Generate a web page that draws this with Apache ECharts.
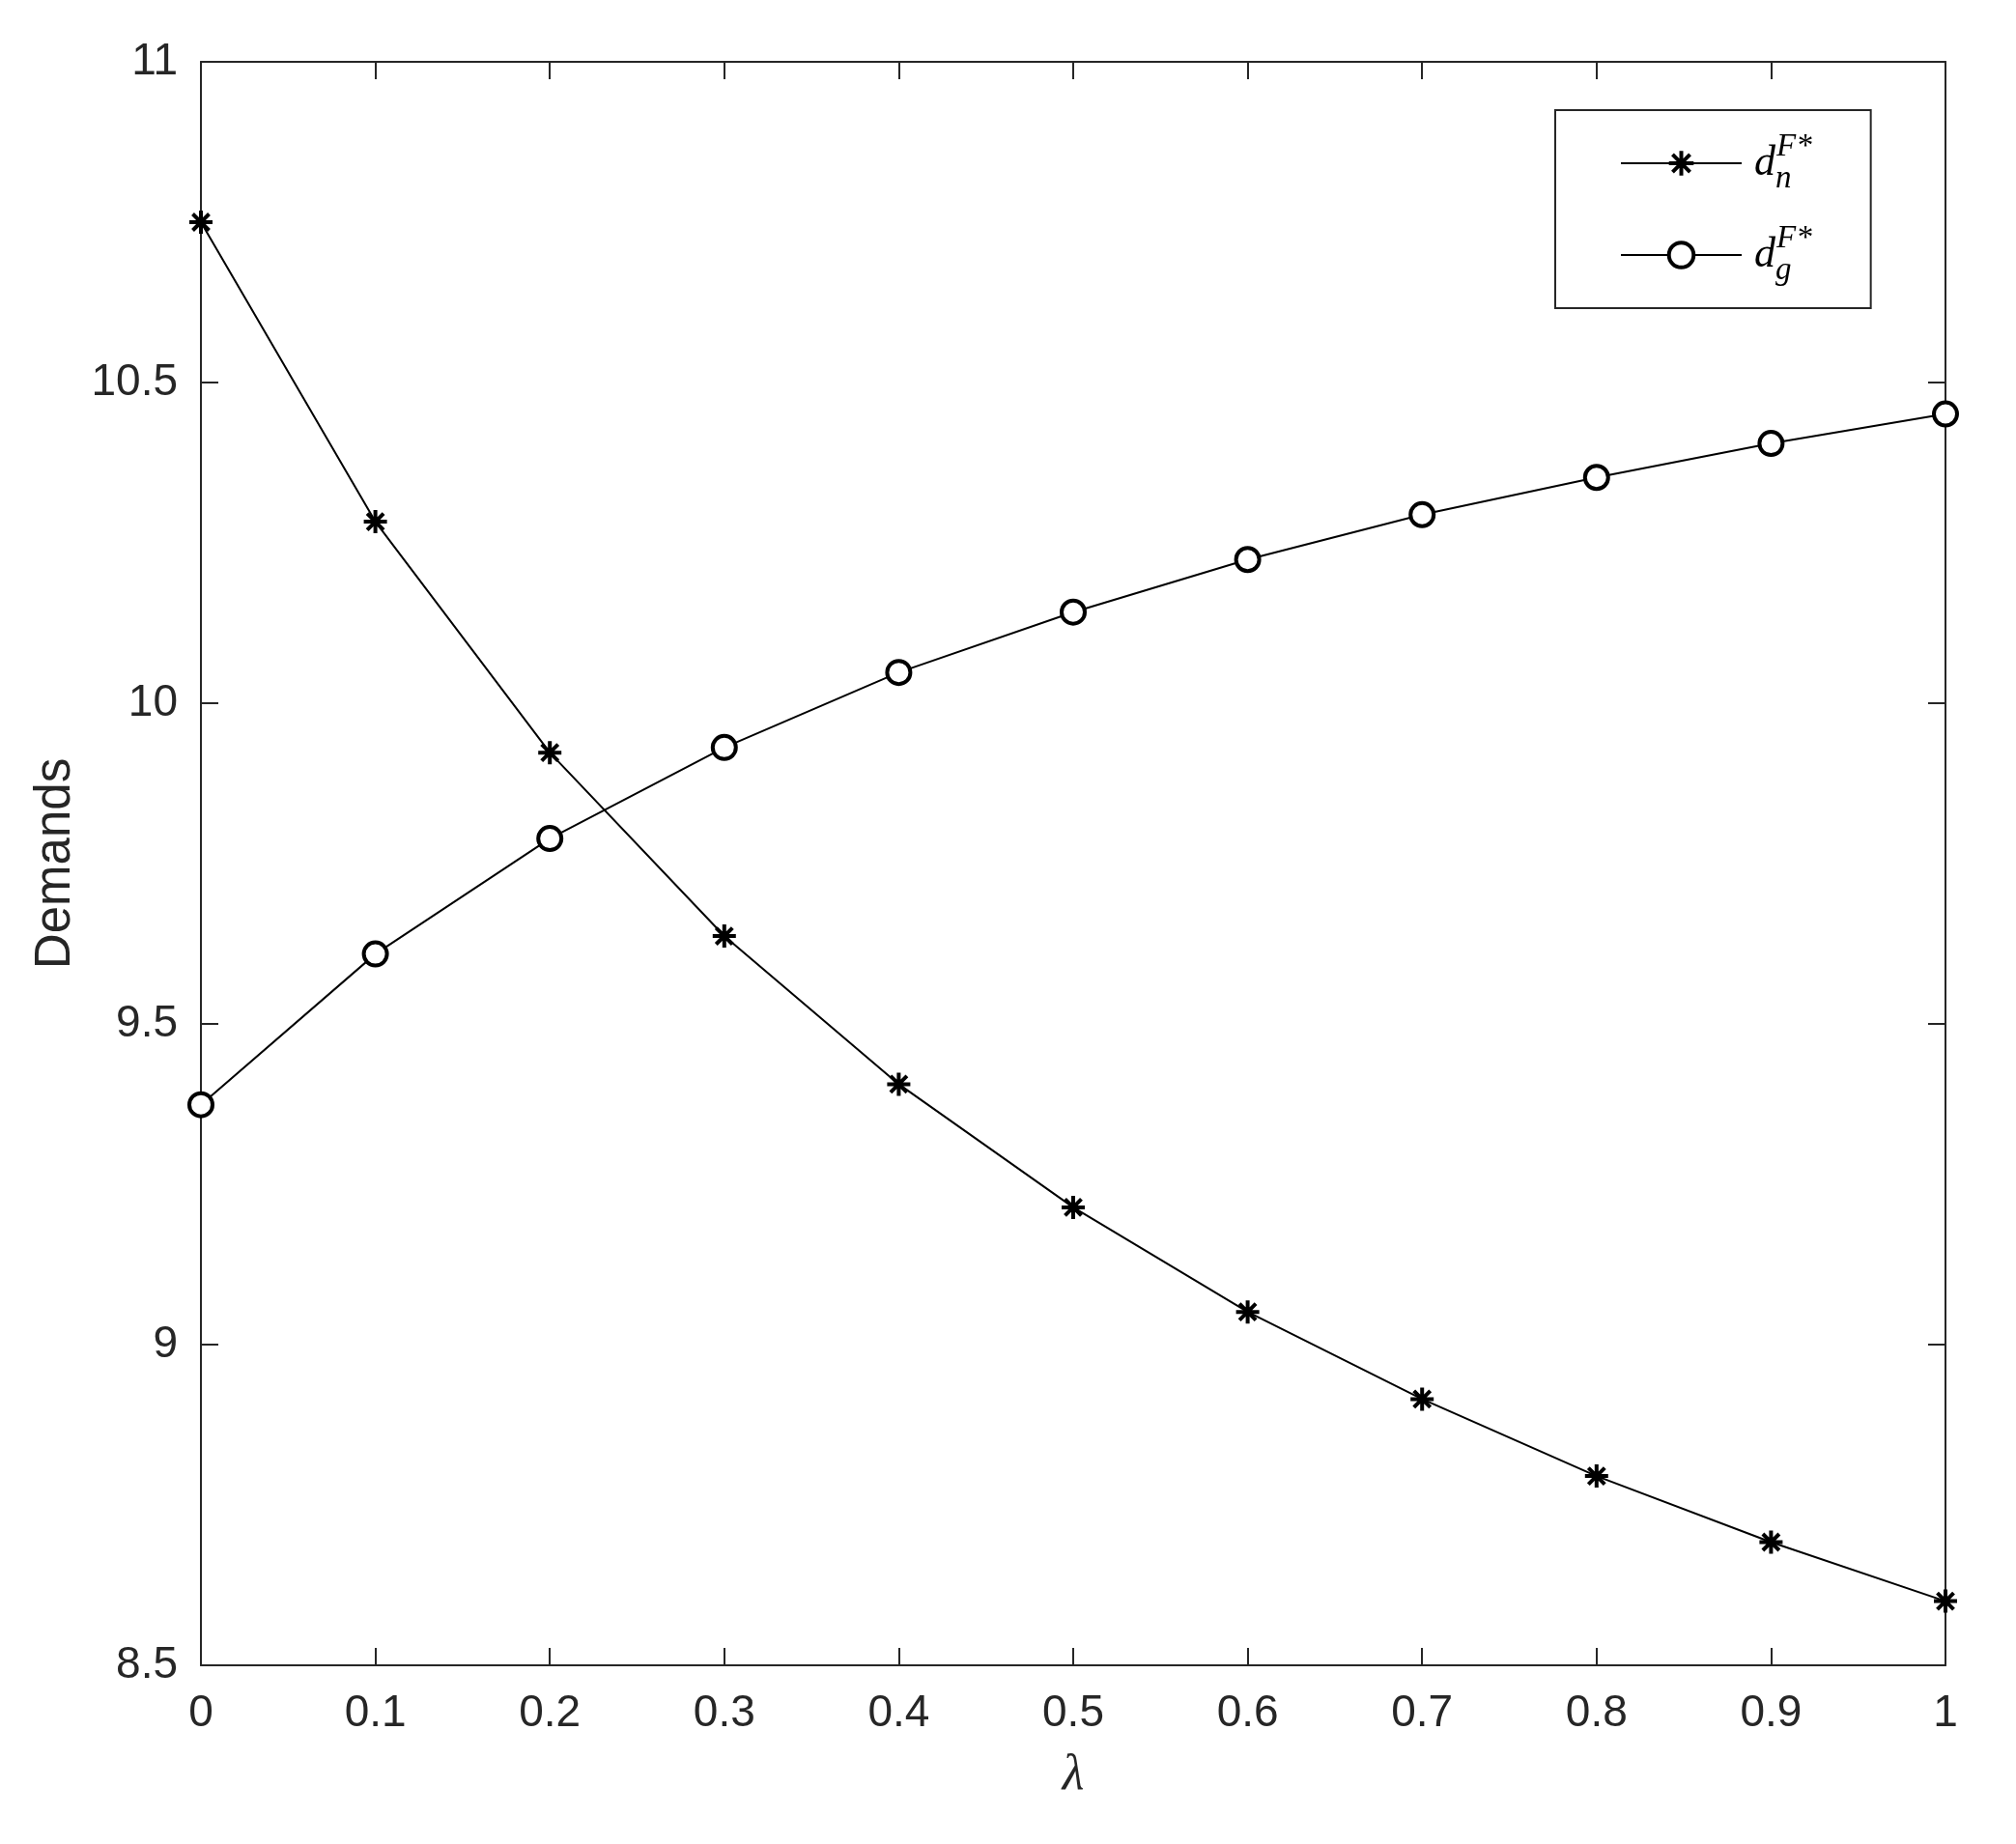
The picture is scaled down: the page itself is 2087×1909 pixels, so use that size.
<!DOCTYPE html>
<html>
<head>
<meta charset="utf-8">
<script src="https://cdn.jsdelivr.net/npm/echarts@6/dist/echarts.min.js"></script>
<style>
html,body{margin:0;padding:0;background:#fff;}
#chart{width:2087px;height:1909px;}
</style>
</head>
<body>
<div id="chart"></div>
<script>
// ---- data ----
const lambdaValues = [0, 0.1, 0.2, 0.3, 0.4, 0.5, 0.6, 0.7, 0.8, 0.9, 1.0];
const dnValues = [10.75, 10.283, 9.923, 9.637, 9.406, 9.214, 9.051, 8.915, 8.795, 8.692, 8.600];
const dgValues = [9.374, 9.609, 9.789, 9.931, 10.048, 10.142, 10.224, 10.294, 10.352, 10.405, 10.451];
const xTickLabels = ['0', '0.1', '0.2', '0.3', '0.4', '0.5', '0.6', '0.7', '0.8', '0.9', '1'];
const yTickLabels = ['8.5', '9', '9.5', '10', '10.5', '11'];
const seriesNames = ['dn', 'dg'];
const seriesSubscripts = ['n', 'g'];
const xAxisName = 'λ';
const yAxisName = 'Demands';

// ---- styles ----
const AX = '#262626';
const starPath = 'path://M0,-10L0,10M-10,0L10,0M-7.07,-7.07L7.07,7.07M-7.07,7.07L7.07,-7.07';
const xMin = Number(xTickLabels[0]), xMax = Number(xTickLabels[xTickLabels.length - 1]);
const yMin = Number(yTickLabels[0]), yMax = Number(yTickLabels[yTickLabels.length - 1]);

function baseAxis(extra) {
  return Object.assign({
    type: 'value',
    axisLine: { show: true, onZero: false, lineStyle: { color: AX, width: 2 } },
    axisTick: { show: true, inside: true, length: 18, lineStyle: { color: AX, width: 2 } },
    splitLine: { show: false },
    axisLabel: { show: false }
  }, extra);
}

const chart = echarts.init(document.getElementById('chart'), null, { renderer: 'canvas' });

const option = {
  backgroundColor: '#fff',
  animation: false,
  grid: { left: 208, right: 73, top: 64, bottom: 185, containLabel: false },
  xAxis: [
    baseAxis({
      position: 'bottom', min: xMin, max: xMax, interval: 0.1,
      name: xAxisName, nameLocation: 'middle', nameGap: 88,
      nameTextStyle: { fontFamily: 'Liberation Serif', fontStyle: 'italic', fontSize: 52, color: AX },
      axisLabel: {
        show: true, margin: 27, color: AX, fontFamily: 'Liberation Sans', fontSize: 46,
        formatter: function (v) { const i = Math.round((v - xMin) / 0.1); return xTickLabels[i] !== undefined ? xTickLabels[i] : ''; }
      }
    }),
    baseAxis({ position: 'top', min: xMin, max: xMax, interval: 0.1 })
  ],
  yAxis: [
    baseAxis({
      position: 'left', min: yMin, max: yMax, interval: 0.5,
      name: yAxisName, nameLocation: 'middle', nameGap: 123, nameRotate: 90,
      nameTextStyle: { fontFamily: 'Liberation Sans', fontSize: 51, color: AX },
      axisLabel: {
        show: true, margin: 24, color: AX, fontFamily: 'Liberation Sans', fontSize: 46,
        formatter: function (v) { const i = Math.round((v - yMin) / 0.5); return yTickLabels[i] !== undefined ? yTickLabels[i] : ''; }
      }
    }),
    baseAxis({ position: 'right', min: yMin, max: yMax, interval: 0.5 })
  ],
  legend: {
    orient: 'vertical',
    left: 1610, top: 114,
    padding: [22, 61, 22, 67],
    itemGap: 29,
    itemWidth: 125,
    itemHeight: 32,
    selectedMode: false,
    borderColor: AX,
    borderWidth: 2,
    backgroundColor: '#fff',
    itemStyle: { borderWidth: 4 },
    data: seriesNames,
    formatter: function (name) {
      const i = seriesNames.indexOf(name);
      return '{d|d}{sub|' + seriesSubscripts[i] + '}{sup|F*}';
    },
    textStyle: {
      color: '#000',
      rich: {
        d: { fontFamily: 'Liberation Serif', fontStyle: 'italic', fontSize: 44, lineHeight: 66, verticalAlign: 'middle', padding: [0, 0, 0, 8], color: '#000' },
        sub: { fontFamily: 'Liberation Serif', fontStyle: 'italic', fontSize: 33, lineHeight: 33, width: 1, verticalAlign: 'bottom', color: '#000' },
        sup: { fontFamily: 'Liberation Serif', fontStyle: 'italic', fontSize: 33, lineHeight: 33, verticalAlign: 'top', color: '#000' }
      }
    }
  },
  series: [
    {
      name: seriesNames[0], type: 'line', xAxisIndex: 0, yAxisIndex: 0,
      data: lambdaValues.map((x, i) => [x, dnValues[i]]),
      symbol: starPath, symbolSize: 24, showAllSymbol: true,
      lineStyle: { color: '#000', width: 2 },
      itemStyle: { color: '#000', borderColor: '#000', borderWidth: 4 },
      emphasis: { disabled: true }, z: 3
    },
    {
      name: seriesNames[1], type: 'line', xAxisIndex: 0, yAxisIndex: 0,
      data: lambdaValues.map((x, i) => [x, dgValues[i]]),
      symbol: 'circle', symbolSize: 24, showAllSymbol: true,
      lineStyle: { color: '#000', width: 2 },
      itemStyle: { color: '#fff', borderColor: '#000', borderWidth: 4 },
      emphasis: { disabled: true }, z: 3
    }
  ]
};
chart.setOption(option);
</script>
</body>
</html>
